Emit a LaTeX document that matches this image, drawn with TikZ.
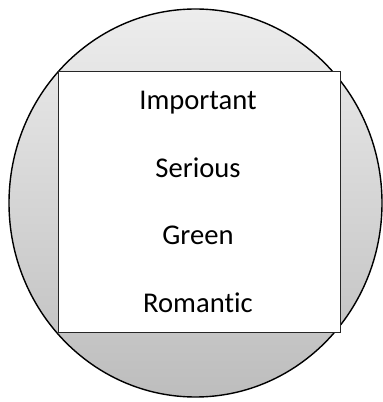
\documentclass[tikz,border=0pt]{standalone}
\usepackage{fontspec}
\setmainfont[Ligatures=NoCommon]{Carlito}
\usepackage{tikz}
\usetikzlibrary{shapes.geometric, positioning}
\definecolor{disctop}{HTML}{EDEDED}
\definecolor{discbot}{HTML}{BDBDBD}
\tikzset{
  disc/.style={ellipse, draw=black, line width=1.4pt,
               top color=disctop, bottom color=discbot,
               minimum width=373pt, minimum height=388pt, inner sep=0pt},
  panel/.style={rectangle, draw=black!85, line width=1pt, fill=white,
                minimum width=281.7pt, minimum height=260.6pt, inner sep=0pt},
  word/.style={anchor=base, inner sep=0pt,
               font=\fontsize{28.6}{34}\selectfont},
}

\begin{document}
\begin{tikzpicture}[x=1pt, y=1pt]
  \useasboundingbox (0,0) rectangle (383,402);
  \node[disc]  (D) at (195.5,199) {};
  \node[panel] (P) at (199.15,200) {};
  \foreach \w/\t/\yy in {w1/Important/292, w2/Serious/224.5,
                         w3/Green/157, w4/Romantic/89.5}
    \node[word] (\w) at (198,\yy) {\t};
\end{tikzpicture}
\end{document}
